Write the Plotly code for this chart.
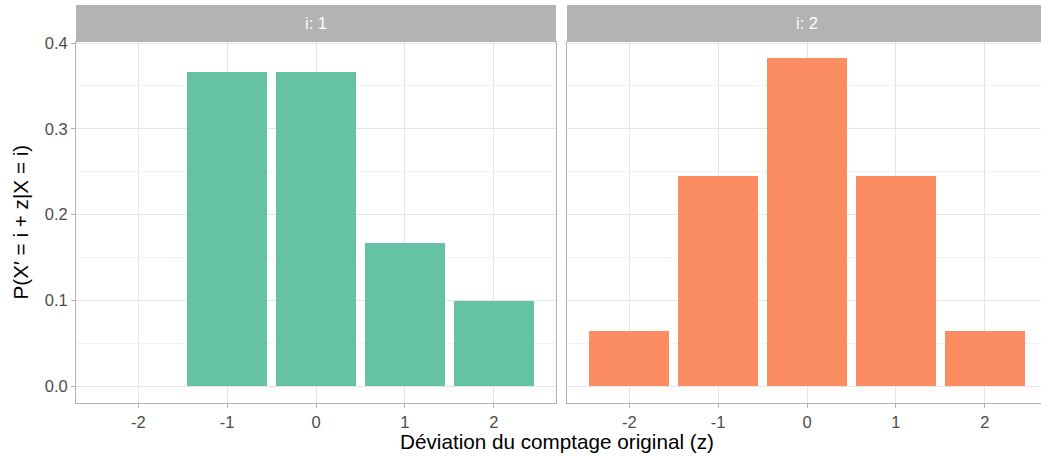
import plotly.graph_objects as go

# Data
z_values = [-2, -1, 0, 1, 2]
panel_labels = ["i: 1", "i: 2"]
prob_i1 = [None, 0.3662, 0.3662, 0.1670, 0.0995]
prob_i2 = [0.0640, 0.2453, 0.3830, 0.2453, 0.0640]
colors = ["#66c2a5", "#fc8d62"]
y_ticks = [0.0, 0.1, 0.2, 0.3, 0.4]

# The reference is cropped on the right: the figure is slightly wider than the window
W, H = 1048, 457
ml, mr, mt, mb = 76, 1, 5, 54
pw, ph = W - ml - mr, H - mt - mb
plot_top_px = 42
dom_top = (H - mb - plot_top_px) / ph
strip_bottom = (H - mb - 41.5) / ph
x1_dom = [0, (556 - ml) / pw]
x2_dom = [(567 - ml) / pw, 1]

fig = go.Figure()
fig.add_trace(go.Bar(x=z_values, y=prob_i1, marker_color=colors[0], width=0.9,
                     marker_line_width=0, xaxis="x", yaxis="y", showlegend=False))
fig.add_trace(go.Bar(x=z_values, y=prob_i2, marker_color=colors[1], width=0.9,
                     marker_line_width=0, xaxis="x2", yaxis="y2", showlegend=False))

font_family = "Liberation Sans, Arial, sans-serif"
tick_size = 16.5
title_size = 20.7
xcommon = dict(range=[-2.7, 2.7], tickvals=z_values, ticktext=[str(v) for v in z_values],
               showgrid=True, gridcolor="#e6e6e6", gridwidth=1, zeroline=False,
               showline=True, linecolor="#b3b3b3", linewidth=1, mirror=True,
               ticks="outside", ticklen=4, tickcolor="#b3b3b3", automargin=False,
               tickfont=dict(size=tick_size, color="#4d4d4d", family=font_family))
ycommon = dict(range=[-0.0198, 0.4012], tickvals=y_ticks, ticktext=[f"{v:.1f}" for v in y_ticks],
               showgrid=True, gridcolor="#e6e6e6", gridwidth=1, zeroline=False,
               showline=True, linecolor="#b3b3b3", linewidth=1, mirror=True, automargin=False,
               minor=dict(tickvals=[0.05, 0.15, 0.25, 0.35], showgrid=True, gridcolor="#f3f3f3", ticks=""),
               domain=[0, dom_top])

fig.update_layout(
    width=W, height=H,
    margin=dict(l=ml, r=mr, t=mt, b=mb, autoexpand=False),
    paper_bgcolor="white", plot_bgcolor="white",
    font=dict(family=font_family),
    xaxis=dict(domain=x1_dom, anchor="y", **xcommon),
    xaxis2=dict(domain=x2_dom, anchor="y2", **xcommon),
    yaxis=dict(anchor="x", ticks="outside", ticklen=4, tickcolor="#b3b3b3",
               tickfont=dict(size=tick_size, color="#4d4d4d", family=font_family), **ycommon),
    yaxis2=dict(anchor="x2", showticklabels=False, ticks="", matches="y", **ycommon),
    bargap=0,
)

# strips
for dom, label in zip([x1_dom, x2_dom], panel_labels):
    fig.add_shape(type="rect", xref="paper", yref="paper", x0=dom[0], x1=dom[1],
                  y0=strip_bottom, y1=1, fillcolor="#b3b3b3", line=dict(width=0), layer="above")
    fig.add_annotation(xref="paper", yref="paper", x=(dom[0] + dom[1]) / 2, y=(strip_bottom + 1) / 2,
                       text=label, showarrow=False, font=dict(size=tick_size, color="white"),
                       xanchor="center", yanchor="middle")

fig.add_annotation(xref="paper", yref="paper", x=(557 - ml) / pw, y=-(441 - (H - mb)) / ph,
                   text="Déviation du comptage original (z)", showarrow=False,
                   font=dict(size=title_size, color="black"), xanchor="center", yanchor="middle")
fig.add_annotation(xref="paper", yref="paper", x=-(ml - 20) / pw, y=dom_top / 2,
                   text="P(X′ = i + z|X = i)", showarrow=False, textangle=-90,
                   font=dict(size=title_size, color="black"), xanchor="center", yanchor="middle")

fig.write_html("out.html", config={"displayModeBar": False},
               post_script="document.body.style.margin='0px';document.body.style.overflow='hidden';")
